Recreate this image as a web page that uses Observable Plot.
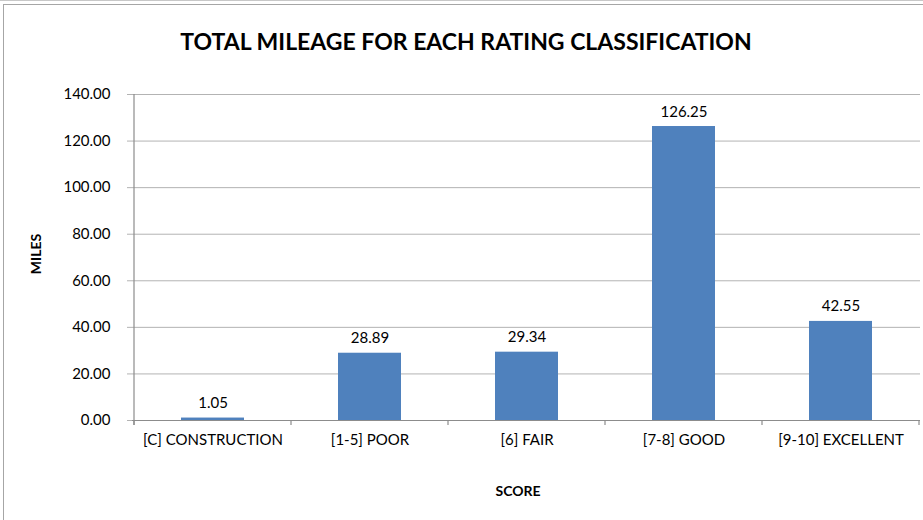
<!DOCTYPE html>
<html>
<head>
<meta charset="utf-8">
<script src="https://cdn.jsdelivr.net/npm/d3@7"></script>
<script src="https://cdn.jsdelivr.net/npm/@observablehq/plot@0.6"></script>
<style>
  html, body { margin: 0; padding: 0; background: #fff; }
  #wrap { position: relative; width: 923px; height: 520px; overflow: hidden; font-family: Lato, "Open Sans", sans-serif; }
  #outer { position: absolute; left: 0; top: 0; width: 923px; height: 1px; background: #c8c8c8; }
  #frame { position: absolute; left: 3px; top: 4px; width: 940px; height: 540px; border: 1.5px solid #a6a6a6; box-sizing: border-box; }
  #chart { position: absolute; left: 0; top: 0; }
  #title { position: absolute; left: 0; width: 932px; top: 27px; text-align: center; font-weight: bold; font-size: 23px; color: #000; white-space: nowrap; }
  #xlabel { position: absolute; left: 418px; width: 200px; top: 482px; text-align: center; font-weight: bold; font-size: 14px; color: #000; }
  #ylabel { position: absolute; left: 35px; top: 254px; transform: translate(-50%, -50%) rotate(-90deg); font-weight: bold; font-size: 14px; color: #000; white-space: nowrap; }
</style>
</head>
<body>
<div id="wrap">
  <div id="outer"></div>
  <div id="frame"></div>
  <div id="chart"></div>
  <div id="title">TOTAL MILEAGE FOR EACH RATING CLASSIFICATION</div>
  <div id="xlabel">SCORE</div>
  <div id="ylabel">MILES</div>
</div>
<script>
const categories = ["[C] CONSTRUCTION", "[1-5] POOR", "[6] FAIR", "[7-8] GOOD", "[9-10] EXCELLENT"];
const miles = [1.05, 28.89, 29.34, 126.25, 42.55];
const yTicks = [0, 20, 40, 60, 80, 100, 120, 140];

const data = categories.map((c, i) => ({cat: c, miles: miles[i]}));
const fmt = d3.format(".2f");
const gridColor = "#b3b3b3";
const axisColor = "#8c8c8c";

const plot = Plot.plot({
  width: 923,
  height: 520,
  marginLeft: 132,
  marginRight: 3,
  marginTop: 94,
  marginBottom: 100,
  style: {fontFamily: "Lato, 'Open Sans', sans-serif", fontSize: "15px", color: "#000", background: "transparent", overflow: "visible"},
  x: {domain: categories, paddingInner: 0.6, paddingOuter: 0.3, label: null},
  y: {domain: [0, 140], label: null},
  marks: [
    Plot.gridY(yTicks, {stroke: gridColor, strokeOpacity: 1, strokeWidth: 1}),
    Plot.axisY(yTicks, {tickSize: 5, tickPadding: 17, tickFormat: fmt, stroke: gridColor, fontSize: 15, label: null}),
    Plot.barY(data, {x: "cat", y: "miles", fill: "#4F81BD"}),
    Plot.text(data, {x: "cat", y: "miles", text: d => fmt(d.miles), lineAnchor: "bottom", dy: -10, fontSize: 15, fill: "#000"}),
    Plot.ruleY([0], {stroke: axisColor, strokeWidth: 1.2}),
    Plot.axisX({tickSize: 0, tickPadding: 14, fontSize: 15, label: null})
  ]
});
document.getElementById("chart").appendChild(plot);

// y axis line and category boundary ticks, from the plot's own scales
const xs = plot.scale("x");
const ys = plot.scale("y");
const svg = d3.select(plot);
const offset = (xs.step - xs.bandwidth) / 2;
const bounds = categories.map(c => xs.apply(c) - offset);
bounds.push(xs.apply(categories[categories.length - 1]) + xs.bandwidth + offset);
const y0 = ys.apply(0), yTop = ys.apply(140);
svg.append("line")
  .attr("x1", bounds[0]).attr("x2", bounds[0])
  .attr("y1", yTop).attr("y2", y0 + 5)
  .attr("stroke", axisColor).attr("stroke-width", 1.2);
svg.append("g").selectAll("line").data(bounds).join("line")
  .attr("x1", d => d).attr("x2", d => d)
  .attr("y1", y0).attr("y2", y0 + 5)
  .attr("stroke", axisColor).attr("stroke-width", 1.2);
</script>
</body>
</html>
